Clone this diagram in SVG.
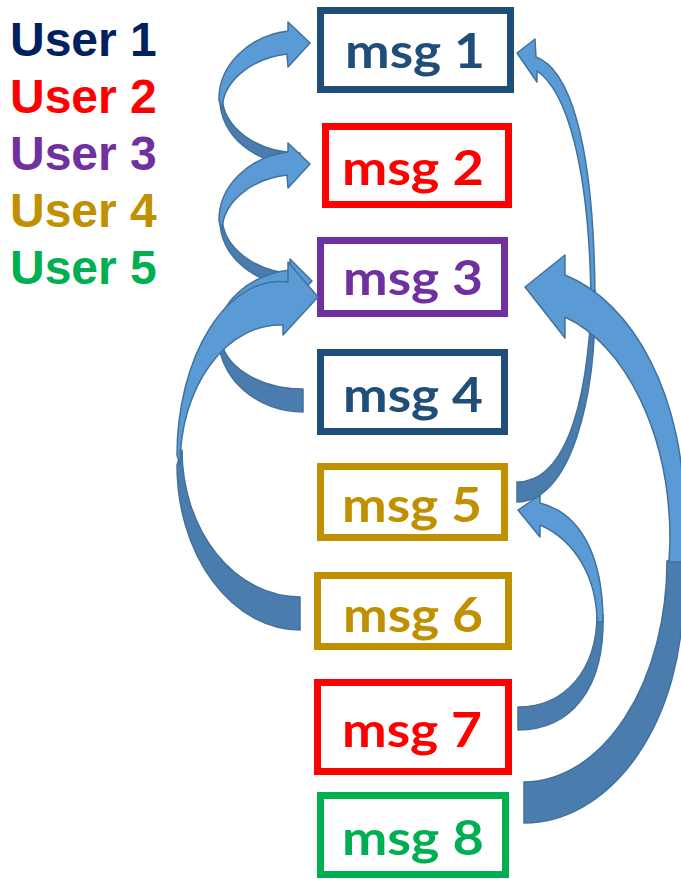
<svg xmlns="http://www.w3.org/2000/svg" width="681" height="879" viewBox="0 0 681 879">
  <style>
    .user { font-family: "Liberation Sans", Arial, sans-serif; font-weight: bold; font-size: 48px; }
    .box rect { fill: #ffffff; stroke-width: 7; }
    .box text { font-family: Lato, "Open Sans", sans-serif; font-weight: bold; font-size: 48px; text-anchor: middle; }
    .front { fill: #5B9BD5; stroke: #41719C; stroke-width: 1.5; stroke-linejoin: round; }
    .back { fill: #4A7DAE; stroke: #41719C; stroke-width: 1.5; stroke-linejoin: round; }
  </style>

  <rect width="681" height="879" fill="#ffffff"/>

  <!-- colour key -->
  <g id="legend">
    <text class="user" x="10" y="56" fill="#002060">User 1</text>
    <text class="user" x="10" y="113" fill="#FF0000">User 2</text>
    <text class="user" x="10" y="170" fill="#7030A0">User 3</text>
    <text class="user" x="10" y="227" fill="#BF9000">User 4</text>
    <text class="user" x="10" y="284" fill="#00B050">User 5</text>
  </g>

  <!-- message boxes -->
  <g id="msg1" class="box">
    <rect x="320.5" y="10.5" width="190" height="79" stroke="#1F4E79"/>
    <text x="415" y="68" fill="#1F4E79" textLength="140" lengthAdjust="spacingAndGlyphs">msg 1</text>
  </g>
  <g id="msg2" class="box">
    <rect x="325.5" y="126.5" width="183" height="78" stroke="#FF0000"/>
    <text x="413" y="185" fill="#FF0000" textLength="142" lengthAdjust="spacingAndGlyphs">msg 2</text>
  </g>
  <g id="msg3" class="box">
    <rect x="320.5" y="240.5" width="184" height="73" stroke="#7030A0"/>
    <text x="413" y="295" fill="#7030A0" textLength="140" lengthAdjust="spacingAndGlyphs">msg 3</text>
  </g>
  <g id="msg4" class="box">
    <rect x="320.5" y="352.5" width="184" height="79" stroke="#1F4E79"/>
    <text x="413" y="412" fill="#1F4E79" textLength="140" lengthAdjust="spacingAndGlyphs">msg 4</text>
  </g>
  <g id="msg5" class="box">
    <rect x="320.5" y="466.5" width="184" height="71" stroke="#BF9000"/>
    <text x="412" y="522" fill="#BF9000" textLength="140" lengthAdjust="spacingAndGlyphs">msg 5</text>
  </g>
  <g id="msg6" class="box">
    <rect x="317.5" y="575.5" width="191" height="71" stroke="#BF9000"/>
    <text x="413" y="632" fill="#BF9000" textLength="140" lengthAdjust="spacingAndGlyphs">msg 6</text>
  </g>
  <g id="msg7" class="box">
    <rect x="317.5" y="682.5" width="191" height="89" stroke="#FF0000"/>
    <text x="412" y="747" fill="#FF0000" textLength="140" lengthAdjust="spacingAndGlyphs">msg 7</text>
  </g>
  <g id="msg8" class="box">
    <rect x="320.5" y="795.5" width="185" height="79" stroke="#00B050"/>
    <text x="413" y="855" fill="#00B050" textLength="142" lengthAdjust="spacingAndGlyphs">msg 8</text>
  </g>

  <!-- curved arrows: darker back face first, lighter front face with head on top -->
  <g id="connectors">
    <!-- msg 2 -> msg 1 -->
    <g id="arrow-2-1">
      <path class="back" d="M220,100 A80 65 0 0 0 300,165 L300,153 A78 58 0 0 1 222,95 Z"/>
      <path class="front" d="M288,31 A81 69 0 0 0 219,100 L222,110 A78 57 0 0 1 287,54 L288,67 L310,43 L288,22 Z"/>
    </g>
    <!-- msg 3 -> msg 2 -->
    <g id="arrow-3-2" transform="translate(0,121)">
      <path class="back" d="M220,100 A80 65 0 0 0 300,165 L300,153 A78 58 0 0 1 222,95 Z"/>
      <path class="front" d="M288,31 A81 69 0 0 0 219,100 L222,110 A78 57 0 0 1 287,54 L288,67 L310,43 L288,22 Z"/>
    </g>
    <!-- msg 4 -> msg 3 -->
    <g id="arrow-4-3">
      <path class="back" d="M218,335 A85 77 0 0 0 303,412 L303,389 A82 54 0 0 1 221,335 Z"/>
      <path class="front" d="M290,270 A85 66 0 0 0 218,335 L222,345 A81 52 0 0 1 289,294 L290,304 L312,281 L290,259 Z"/>
    </g>
    <!-- msg 6 -> msg 3 -->
    <g id="arrow-6-3">
      <path class="back" d="M177,465 A123 165 0 0 0 300,630 L300,597 A118 147 0 0 1 182,450 Z"/>
      <path class="front" d="M288,282 A103 174 0 0 0 177,455 L180,465 A100 140 0 0 1 283,325 L283,335 L318,297 L288,262 Z"/>
    </g>
    <!-- msg 5 -> msg 1 -->
    <g id="arrow-5-1">
      <path class="back" d="M517,482 C560,482 588,420 592,290 L595,290 C597,400 570,502 517,502 Z"/>
      <path class="front" d="M536,57 C566,68 594,130 595,298 L591,298 C589,160 565,90 537,71 L537,82 L517,53 L535,39 Z"/>
    </g>
    <!-- msg 7 -> msg 5 -->
    <g id="arrow-7-5">
      <path class="back" d="M518,707 C565,707 597,670 597,615 L603,615 C605,690 570,730 518,730 Z"/>
      <path class="front" d="M540,503 C580,513 603,555 603,622 L597,622 C597,578 575,540 540,525 L540,537 L518,510 L540,495 Z"/>
    </g>
    <!-- msg 8 -> msg 3 -->
    <g id="arrow-8-3">
      <path class="back" d="M524,782 A143 221 0 0 0 667,561 L684,555 L683,596 A159 227 0 0 1 524,823 Z"/>
      <path class="front" d="M565,275 A160 243 0 0 1 684,510 L684,562 L669,562 L670,540 A146 232 0 0 0 565,317 L565,338 L525,287 L565,255 Z"/>
    </g>
  </g>
</svg>
